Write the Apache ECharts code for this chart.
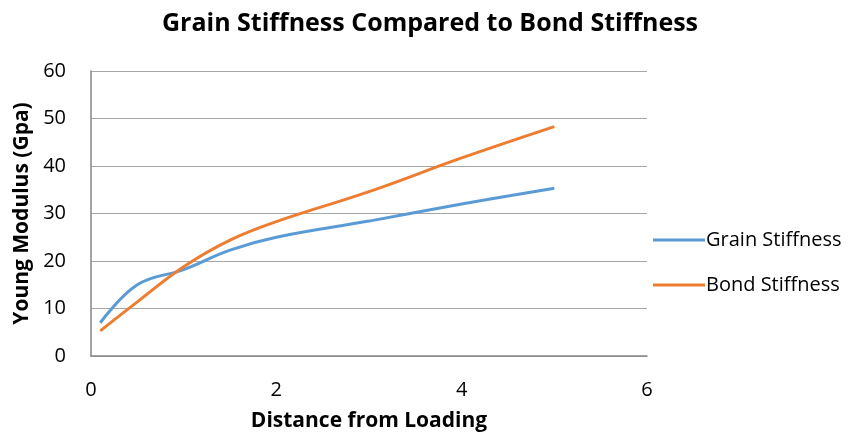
<!DOCTYPE html>
<html>
<head>
<meta charset="utf-8">
<script src="https://cdn.jsdelivr.net/npm/echarts@6/dist/echarts.min.js"></script>
<style>
  html, body { margin: 0; padding: 0; background: #fff; }
  #chart { width: 854px; height: 437px; }
</style>
</head>
<body>
<div id="chart"></div>
<script>
// Distances from the loading point and measured moduli (GPa)
const grainDistance = [0.1, 0.5, 1, 1.5, 2, 3, 4, 5];
const grainStiffness = [7, 15, 18.2, 22.3, 25, 28.4, 32, 35.3];
const bondDistance = [0.1, 0.5, 1, 1.5, 2, 3, 4, 5];
const bondStiffness = [5.3, 11.4, 18.8, 24.4, 28.3, 34.6, 41.7, 48.3];
const xTicks = [0, 2, 4, 6];
const yTicks = [0, 10, 20, 30, 40, 50, 60];

const font = '"Open Sans", "Liberation Sans", sans-serif';
const chart = echarts.init(document.getElementById('chart'));

chart.setOption({
  animation: false,
  title: {
    text: 'Grain Stiffness Compared to Bond Stiffness',
    left: 425, top: 6, textAlign: 'center',
    textStyle: { fontFamily: font, fontWeight: 'bold', fontSize: 25, color: '#000' }
  },
  legend: {
    orient: 'vertical', left: 648, top: 225, itemGap: 25,
    itemWidth: 52, itemHeight: 14,
    icon: 'path://M0,6 L52,6 L52,9 L0,9 Z',
    textStyle: { fontFamily: font, fontSize: 20, lineHeight: 20, color: '#000', padding: [0, 0, 0, -4] },
    data: ['Grain Stiffness', 'Bond Stiffness']
  },
  grid: { left: 91, right: 207, top: 71, bottom: 77 },
  xAxis: {
    type: 'value', min: xTicks[0], max: xTicks[xTicks.length - 1], interval: 2,
    name: 'Distance from Loading', nameLocation: 'middle', nameGap: 55,
    nameTextStyle: { fontFamily: font, fontWeight: 'bold', fontSize: 21, color: '#000' },
    axisLine: { lineStyle: { color: '#868686', width: 1.5 } },
    axisTick: { show: false },
    splitLine: { show: false },
    axisLabel: { fontFamily: font, fontSize: 20, color: '#000', margin: 24 }
  },
  yAxis: {
    type: 'value', min: yTicks[0], max: yTicks[yTicks.length - 1], interval: 10,
    name: 'Young Modulus (Gpa)', nameLocation: 'middle', nameGap: 56,
    nameTextStyle: { fontFamily: font, fontWeight: 'bold', fontSize: 21, color: '#000' },
    axisLine: { show: true, lineStyle: { color: '#868686', width: 1.5 } },
    axisTick: { show: false },
    splitLine: { lineStyle: { color: '#a6a6a6', width: 1.2 } },
    axisLabel: { fontFamily: font, fontSize: 20, color: '#000', margin: 25 }
  },
  series: [
    {
      name: 'Grain Stiffness', type: 'line', smooth: 0.4, showSymbol: false,
      data: grainDistance.map((d, i) => [d, grainStiffness[i]]),
      lineStyle: { color: '#5b9bd5', width: 3 }, itemStyle: { color: '#5b9bd5' }
    },
    {
      name: 'Bond Stiffness', type: 'line', smooth: 0.4, showSymbol: false,
      data: bondDistance.map((d, i) => [d, bondStiffness[i]]),
      lineStyle: { color: '#ed7d31', width: 3 }, itemStyle: { color: '#ed7d31' }
    }
  ]
});
</script>
</body>
</html>
